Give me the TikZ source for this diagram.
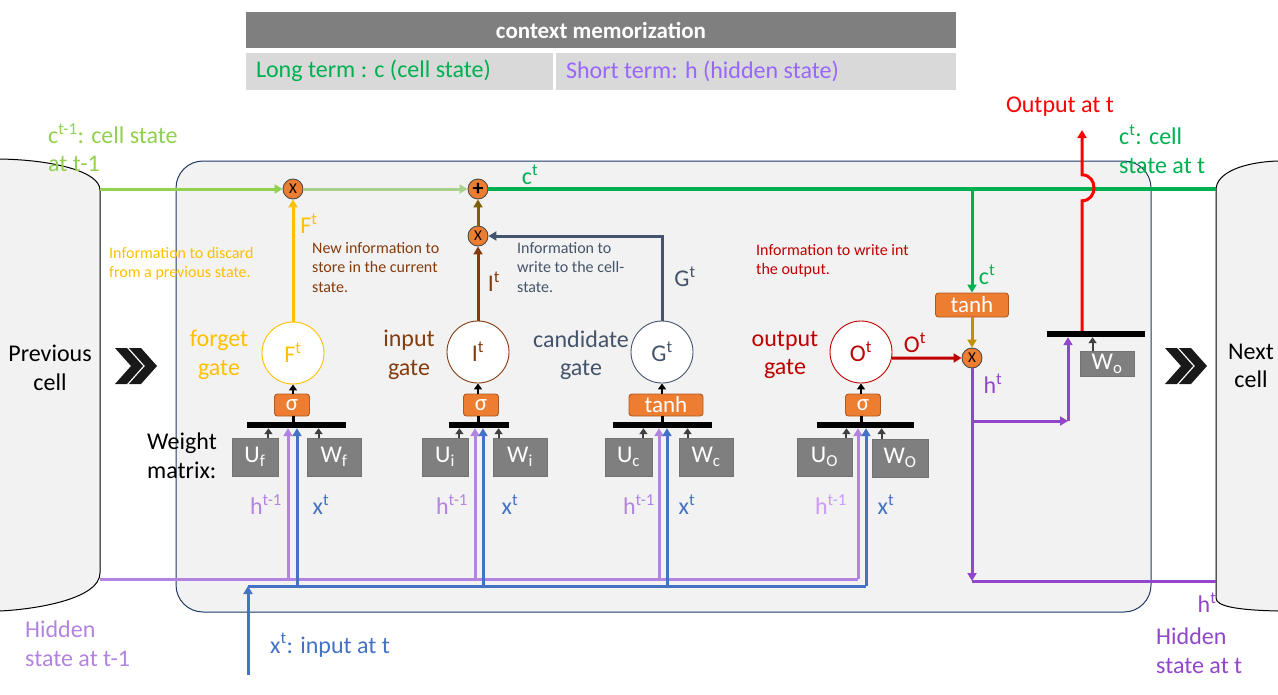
\documentclass[tikz,border=0pt]{standalone}
\usepackage{fontspec}
\setmainfont{Carlito}
\usepackage{tikz}
\usetikzlibrary{arrows.meta, positioning}

\definecolor{cellgreen}{HTML}{00B050}
\definecolor{prevgreen}{HTML}{92D050}
\definecolor{midgreen}{HTML}{A9D18E}
\definecolor{forgetcol}{HTML}{FFC000}
\definecolor{inputcol}{HTML}{843C0C}
\definecolor{candcol}{HTML}{44546A}
\definecolor{outcol}{HTML}{C00000}
\definecolor{outred}{HTML}{FF0000}
\definecolor{hprev}{HTML}{B383E0}
\definecolor{hprevlight}{HTML}{CC99FF}
\definecolor{hcur}{HTML}{9146CC}
\definecolor{xcol}{HTML}{4472C4}
\definecolor{opcol}{HTML}{ED7D31}
\definecolor{opborder}{HTML}{AE5A21}
\definecolor{wcol}{HTML}{7F7F7F}
\definecolor{olivecol}{HTML}{7F6000}
\definecolor{goldcol}{HTML}{BF9000}
\definecolor{boxfill}{HTML}{F2F2F2}
\definecolor{boxline}{HTML}{1F3864}
\definecolor{rowgray}{HTML}{D9D9D9}
\definecolor{shortcol}{HTML}{9966FF}

\begin{document}
\begin{tikzpicture}[x=1pt, y=-1pt, every node/.style={inner sep=0pt},
  lbl/.style={font=\fontsize{24}{28.5}\selectfont},
  info/.style={font=\fontsize{16}{19.5}\selectfont, align=left, anchor=north west},
  gatenode/.style={circle, draw=#1, fill=white, text=#1, minimum size=62pt, line width=0.9pt, font=\fontsize{24}{28}\selectfont},
  actbox/.style={rectangle, rounded corners=3pt, draw=opborder, fill=opcol, text=white, minimum height=22pt, line width=0.9pt, font=\fontsize{23}{23}\selectfont},
  opnode/.style={circle, draw=black!70, fill=opcol, minimum size=20pt, line width=0.9pt, font=\fontsize{15}{15}\selectfont},
  wbox/.style={rectangle, draw=black!55, fill=wcol, text=white, minimum height=38pt, line width=0.9pt, font=\fontsize{24}{24}\selectfont},
  wbar/.style={rectangle, fill=black, minimum height=6pt},
  flow/.style={line width=3pt, -{Triangle[length=8pt,width=9pt]}},
  bus/.style={line width=3pt},
  sarr/.style={line width=2.2pt, -{Triangle[length=6pt,width=8pt]}},
  warr/.style={draw=black!75, line width=2pt, -{Triangle[length=6pt,width=8pt]}}]
  \useasboundingbox (0,0) rectangle (1278,694);

  \node[fill=wcol, text=white, font=\bfseries\fontsize{23}{23}\selectfont, minimum width=710pt, minimum height=36pt] (hdr) at (601,30) {context memorization};
  \node[fill=rowgray, minimum width=307pt, minimum height=37pt] (longcell) at (399.5,71) {};
  \node[fill=rowgray, minimum width=400pt, minimum height=37pt] (shortcell) at (756,71) {};
  \node[right=10pt of longcell.west, anchor=west, text=cellgreen, lbl] (longtxt) {Long term : c (cell state)};
  \node[right=10pt of shortcell.west, anchor=west, text=shortcol, lbl] (shorttxt) {Short term: h (hidden state)};

  \node[draw=boxline, fill=boxfill, line width=1pt, rounded corners=27pt, minimum width=975pt, minimum height=451pt] (cell) at (663.5,386.5) {};

  \fill[boxfill] (0,159) .. controls (55,160) and (100,172) .. (100,190) -- (100,573) .. controls (100,598) and (40,609) .. (0,611) -- cycle;
  \draw[line width=1pt] (0,159) .. controls (55,160) and (100,172) .. (100,190) -- (100,573) .. controls (100,598) and (40,609) .. (0,611);
  \fill[boxfill] (1278,161) .. controls (1245,162) and (1216,172) .. (1216,190) -- (1216,598) .. controls (1216,606) and (1235,610) .. (1278,611) -- cycle;
  \draw[line width=1pt] (1278,161) .. controls (1245,162) and (1216,172) .. (1216,190) -- (1216,598) .. controls (1216,606) and (1235,610) .. (1278,611);
  \node[lbl, align=center] (prevlbl) at (50,368) {Previous\\cell};
  \node[lbl, align=center] (nextlbl) at (1251,366) {Next\\cell};
  \foreach \cx in {115,129,1165,1179}
    \fill[black!90] (\cx,348) -- ++(12,0) -- ++(16,18) -- ++(-16,18) -- ++(-12,0) -- ++(16,-18) -- cycle;

  \node[opnode] (mulf) at (293,189) {X};
  \node[opnode, font=\bfseries\fontsize{22}{22}\selectfont] (add) at (478,189) {+};
  \node[opnode] (muli) at (478,236) {X};
  \node[opnode] (mulo) at (972,358) {X};

  \node[gatenode=forgetcol] (F) at (293,353) {F\textsuperscript{t}};
  \node[gatenode=inputcol] (I) at (478,352) {I\textsuperscript{t}};
  \node[gatenode=candcol] (G) at (662,352) {G\textsuperscript{t}};
  \node[gatenode=outcol] (O) at (861,352) {O\textsuperscript{t}};

  \node[actbox, minimum width=35pt] (sigf) at (292,405) {σ};
  \node[actbox, minimum width=35pt] (sigi) at (481,405) {σ};
  \node[actbox, minimum width=74pt] (tanhg) at (666,405) {tanh};
  \node[actbox, minimum width=35pt] (sigo) at (863,405) {σ};
  \node[actbox, minimum width=73pt, minimum height=24pt] (tanhc) at (972,305) {tanh};

  \node[wbar, minimum width=99pt] (barf) at (296.5,425) {};
  \node[wbar, minimum width=60pt] (bari) at (479,425) {};
  \node[wbar, minimum width=99pt] (barg) at (662.5,425) {};
  \node[wbar, minimum width=97pt] (baro) at (865.5,425) {};
  \node[wbar, minimum width=98pt] (barout) at (1096,334) {};

  \node[wbox, minimum width=46pt] (Uf) at (255,457) {U\textsubscript{f}};
  \node[wbox, minimum width=54pt] (Wf) at (334,457) {W\textsubscript{f}};
  \node[wbox, minimum width=46pt] (Ui) at (445,457) {U\textsubscript{i}};
  \node[wbox, minimum width=54pt] (Wi) at (520,457) {W\textsubscript{i}};
  \node[wbox, minimum width=47pt] (Uc) at (628.5,457) {U\textsubscript{c}};
  \node[wbox, minimum width=54pt] (Wc) at (706,457) {W\textsubscript{c}};
  \node[wbox, minimum width=55pt] (Uo) at (824.5,457) {U\textsubscript{O}};
  \node[wbox, minimum width=56pt] (Wo) at (900,458) {W\textsubscript{O}};
  \node[wbox, minimum width=54pt, minimum height=25pt] (Wout) at (1107,364) {W\textsubscript{o}};

  \draw[line width=3pt] (F.south |- barf.north) -- (F.south |- sigf.south);
  \draw[sarr] (F.south |- sigf.north) -- (F.south);
  \draw[line width=3pt] (I.south |- bari.north) -- (I.south |- sigi.south);
  \draw[sarr] (I.south |- sigi.north) -- (I.south);
  \draw[line width=3pt] (G.south |- barg.north) -- (G.south |- tanhg.south);
  \draw[sarr] (G.south |- tanhg.north) -- (G.south);
  \draw[line width=3pt] (O.south |- baro.north) -- (O.south |- sigo.south);
  \draw[sarr] (O.south |- sigo.north) -- (O.south);

  \draw[warr] ([xshift=-10pt]Uf.north east) -- ([xshift=-10pt]Uf.north east |- barf.south);
  \draw[warr] ([xshift=12pt]Wf.north west) -- ([xshift=12pt]Wf.north west |- barf.south);
  \draw[warr] ([xshift=-9pt]Ui.north east) -- ([xshift=-9pt]Ui.north east |- bari.south);
  \draw[warr] ([xshift=6pt]Wi.north west) -- ([xshift=6pt]Wi.north west |- bari.south);
  \draw[warr] ([xshift=-9pt]Uc.north east) -- ([xshift=-9pt]Uc.north east |- barg.south);
  \draw[warr] ([xshift=9pt]Wc.north west) -- ([xshift=9pt]Wc.north west |- barg.south);
  \draw[warr] ([xshift=-6pt]Uo.north east) -- ([xshift=-6pt]Uo.north east |- baro.south);
  \draw[warr] ([xshift=10pt]Wo.north west) -- ([xshift=10pt]Wo.north west |- baro.south);
  \draw[warr] ([xshift=13pt]Wout.north west) -- ([xshift=13pt]Wout.north west |- barout.south);

  \coordinate (hin) at (100,579);
  \coordinate (hf) at (288,579);
  \coordinate (hi) at (475,579);
  \coordinate (hc) at (659,579);
  \coordinate (ho) at (858,579);
  \coordinate (xin) at (248,675);
  \coordinate (xbus) at (248,586);
  \coordinate (xf) at (297,586);
  \coordinate (xi) at (483,586);
  \coordinate (xc) at (667,586);
  \coordinate (xo) at (866,586);
  \draw[bus, hprev] (hin) -- (ho);
  \draw[flow, hprev] (hf) -- (hf |- barf.south);
  \draw[flow, hprev] (hi) -- (hi |- bari.south);
  \draw[flow, hprev] (hc) -- (hc |- barg.south);
  \draw[flow, hprev] (ho) -- (ho |- baro.south);
  \draw[flow, xcol] (xin) -- (xbus);
  \draw[bus, xcol] (xbus) -- (xo);
  \draw[flow, xcol] (xf) -- (xf |- barf.south);
  \draw[flow, xcol] (xi) -- (xi |- bari.south);
  \draw[flow, xcol] (xc) -- (xc |- barg.south);
  \draw[flow, xcol] (xo) -- (xo |- baro.south);

  \coordinate (cin) at (100,189);
  \coordinate (ctap) at (972,189);
  \coordinate (cout) at (1216,189);
  \draw[flow, prevgreen] (cin) -- (mulf);
  \draw[flow, midgreen] (mulf) -- (add);
  \draw[bus, cellgreen, line width=3.4pt] (add) -- (cout);
  \draw[flow, cellgreen] (ctap) -- (tanhc);
  \draw[flow, goldcol] (tanhc) -- (mulo);
  \draw[flow, forgetcol] (F) -- (mulf);
  \draw[flow, inputcol] (I) -- (muli);
  \draw[flow, olivecol] (muli) -- (add);
  \draw[flow, candcol] (G.north) |- (muli.east);
  \draw[flow, outcol] (O.-11) -- (mulo.west);

  \coordinate (hcorner) at (972,581);
  \coordinate (hnext) at (1216,581);
  \coordinate (hbranch) at (972,421);
  \coordinate (hup) at (1068,421);
  \draw[flow, hcur] (mulo.south) -- (hcorner);
  \draw[bus, hcur] (hcorner) -- (hnext);
  \draw[flow, hcur] (hbranch) -- (hup);
  \draw[flow, hcur] (hup) -- (hup |- barout.south);

  \coordinate (outtop) at (1082,130);
  \draw[flow, outred] (outtop |- barout.north) -- ++(0,-130) .. controls +(16,0) and +(16,0) .. ++(0,-26) -- (outtop);

  \node[lbl, text=prevgreen, align=left, anchor=north west] (cprevlbl) at (48,123) {c\textsuperscript{t-1}: cell state\\at t-1};
  \node[lbl, text=cellgreen, align=left, anchor=north west] (cnextlbl) at (1119,125) {c\textsuperscript{t}: cell\\state at t};
  \node[lbl, text=outred, anchor=base] (outlbl) at (1060,112) {Output at t};
  \node[lbl, text=hprev, align=left, anchor=north west] (hprevlbl) at (25,621) {Hidden\\state at t-1};
  \node[lbl, text=hcur, align=left, anchor=north west] (hnextlbl) at (1156,628) {Hidden\\state at t};
  \node[lbl, text=xcol, anchor=base west] (xinlbl) at (270,653) {x\textsuperscript{t}: input at t};
  \node[lbl, align=left, anchor=north west] (wlbl) at (147,433) {Weight\\matrix:};

  \node[lbl, text=forgetcol, align=center] (Fname) at (219,355) {forget\\gate};
  \node[lbl, text=inputcol, align=center] (Iname) at (409,355) {input\\gate};
  \node[lbl, text=candcol, align=center] (Gname) at (581,355) {candidate\\gate};
  \node[lbl, text=outcol, align=center] (Oname) at (785,355) {output\\gate};

  \node[info, text=forgetcol] (Finfo) at (109,247) {Information to discard\\from a previous state.};
  \node[info, text=inputcol] (Iinfo) at (312,242) {New information to\\store in the current\\state.};
  \node[info, text=candcol] (Ginfo) at (517,242) {Information to\\write to the cell-\\state.};
  \node[info, text=outcol] (Oinfo) at (756,244) {Information to write int\\the output.};

  \node[lbl, text=forgetcol] (Ftlbl) at (309,224) {F\textsuperscript{t}};
  \node[lbl, text=inputcol] (Itlbl) at (494,282) {I\textsuperscript{t}};
  \node[lbl, text=candcol] (Gtlbl) at (685,277) {G\textsuperscript{t}};
  \node[lbl, text=cellgreen] (ctlbl) at (530,175) {c\textsuperscript{t}};
  \node[lbl, text=outcol] (Otlbl) at (915,343) {O\textsuperscript{t}};
  \node[lbl, text=cellgreen] (ctanhlbl) at (987,275) {c\textsuperscript{t}};
  \node[lbl, text=hcur] (htlbl) at (993,384) {h\textsuperscript{t}};
  \node[lbl, text=hcur] (htoutlbl) at (1207,603) {h\textsuperscript{t}};

  \node[lbl, text=hprev] (hflbl) at (266,505) {h\textsuperscript{t-1}};
  \node[lbl, text=xcol] (xflbl) at (321,505) {x\textsuperscript{t}};
  \node[lbl, text=hprev] (hilbl) at (452,505) {h\textsuperscript{t-1}};
  \node[lbl, text=xcol] (xilbl) at (510,505) {x\textsuperscript{t}};
  \node[lbl, text=hprev] (hclbl) at (639,505) {h\textsuperscript{t-1}};
  \node[lbl, text=xcol] (xclbl) at (687,505) {x\textsuperscript{t}};
  \node[lbl, text=hprevlight] (holbl) at (831,505) {h\textsuperscript{t-1}};
  \node[lbl, text=xcol] (xolbl) at (886,505) {x\textsuperscript{t}};
\end{tikzpicture}
\end{document}
